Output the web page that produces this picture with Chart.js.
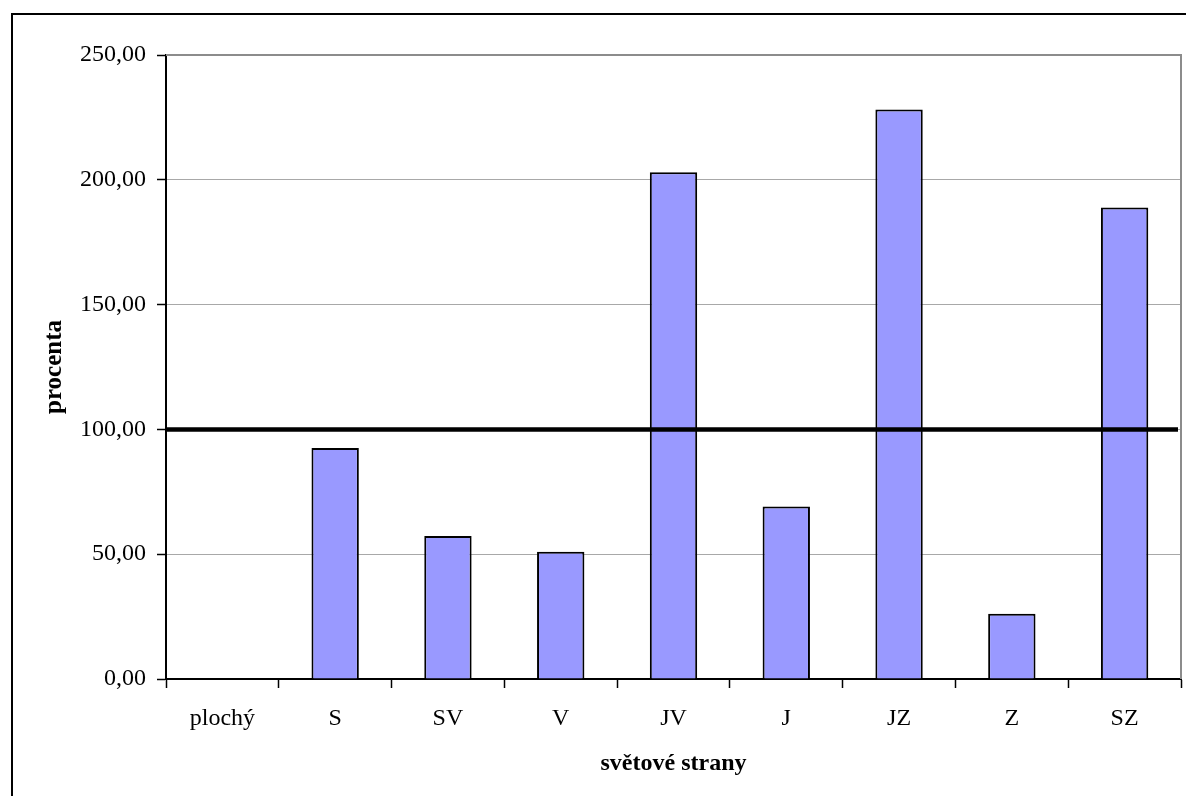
<!DOCTYPE html>
<html>
<head>
<meta charset="utf-8">
<script src="https://cdn.jsdelivr.net/npm/chart.js@4/dist/chart.umd.min.js"></script>
<style>
  html, body { margin: 0; padding: 0; background: #ffffff; }
  #wrap { width: 1186px; height: 796px; position: relative; }
</style>
</head>
<body>
<div id="wrap"><canvas id="chart" width="1186" height="796"></canvas></div>
<script>
// Orientation categories (světové strany) and their share in percent
const categories = ['plochý', 'S', 'SV', 'V', 'JV', 'J', 'JZ', 'Z', 'SZ'];
const percentValues = [0, 92.5, 57.3, 51.0, 203.0, 69.1, 228.2, 26.1, 188.9];
const yTickValues = [0, 50, 100, 150, 200, 250];
const referenceLevel = 100;

const serif = "'Liberation Serif', 'Times New Roman', serif";

// Thick horizontal reference line, grey plot border and the outer frame
const decorations = {
  id: 'decorations',
  beforeDatasetsDraw(chart) {
    const { ctx, chartArea } = chart;
    ctx.save();
    ctx.strokeStyle = '#8c8c8c';
    ctx.lineWidth = 2;
    ctx.beginPath();
    ctx.moveTo(chartArea.left, chartArea.top);
    ctx.lineTo(chartArea.right, chartArea.top);
    ctx.lineTo(chartArea.right, chartArea.bottom);
    ctx.stroke();
    ctx.restore();
  },
  afterDatasetsDraw(chart) {
    const { ctx, chartArea, scales } = chart;
    const y = scales.y.getPixelForValue(referenceLevel);
    ctx.save();
    ctx.strokeStyle = '#000000';
    ctx.lineWidth = 4.5;
    ctx.beginPath();
    ctx.moveTo(chartArea.left, y);
    ctx.lineTo(chartArea.right - 3, y);
    ctx.stroke();
    ctx.restore();
  },
  afterDraw(chart) {
    const { ctx } = chart;
    ctx.save();
    ctx.strokeStyle = '#000000';
    ctx.lineWidth = 2;
    ctx.strokeRect(12, 14, chart.width + 20, chart.height + 20);
    ctx.restore();
  }
};

new Chart(document.getElementById('chart'), {
  type: 'bar',
  data: {
    labels: categories,
    datasets: [{
      data: percentValues,
      backgroundColor: '#9999ff',
      borderColor: '#000000',
      borderWidth: 2,
      barPercentage: 0.42,
      categoryPercentage: 1.0
    }]
  },
  options: {
    responsive: false,
    animation: false,
    devicePixelRatio: 1,
    layout: { padding: { top: 55, right: 5, left: 0, bottom: 0 } },
    plugins: {
      legend: { display: false },
      tooltip: { enabled: false }
    },
    scales: {
      x: {
        grid: {
          offset: true,
          drawOnChartArea: false,
          drawTicks: true,
          tickLength: 9,
          tickColor: '#000000',
          tickWidth: 1.5
        },
        border: { color: '#000000', width: 2 },
        ticks: {
          color: '#000000',
          font: { family: serif, size: 24 },
          maxRotation: 0,
          autoSkip: false,
          padding: 16
        },
        title: {
          display: true,
          text: 'světové strany',
          color: '#000000',
          font: { family: serif, size: 24, weight: 'bold' },
          padding: { top: 0, bottom: 18 }
        },
        afterFit(scale) { scale.height = 796 - 679; }
      },
      y: {
        min: 0,
        max: 250,
        afterBuildTicks(scale) {
          scale.ticks = yTickValues.map(v => ({ value: v }));
        },
        grid: {
          color: '#a8a8a8',
          lineWidth: 1,
          drawTicks: true,
          tickLength: 9,
          tickColor: '#000000',
          tickWidth: 1.5
        },
        border: { color: '#000000', width: 2 },
        ticks: {
          color: '#000000',
          font: { family: serif, size: 24 },
          padding: 11,
          callback: v => v.toFixed(2).replace('.', ',')
        },
        title: {
          display: true,
          text: 'procenta',
          color: '#000000',
          font: { family: serif, size: 25, weight: 'bold' },
          padding: { top: 40, bottom: 0 }
        },
        afterFit(scale) { scale.width = 166; }
      }
    }
  },
  plugins: [decorations]
});
</script>
</body>
</html>
